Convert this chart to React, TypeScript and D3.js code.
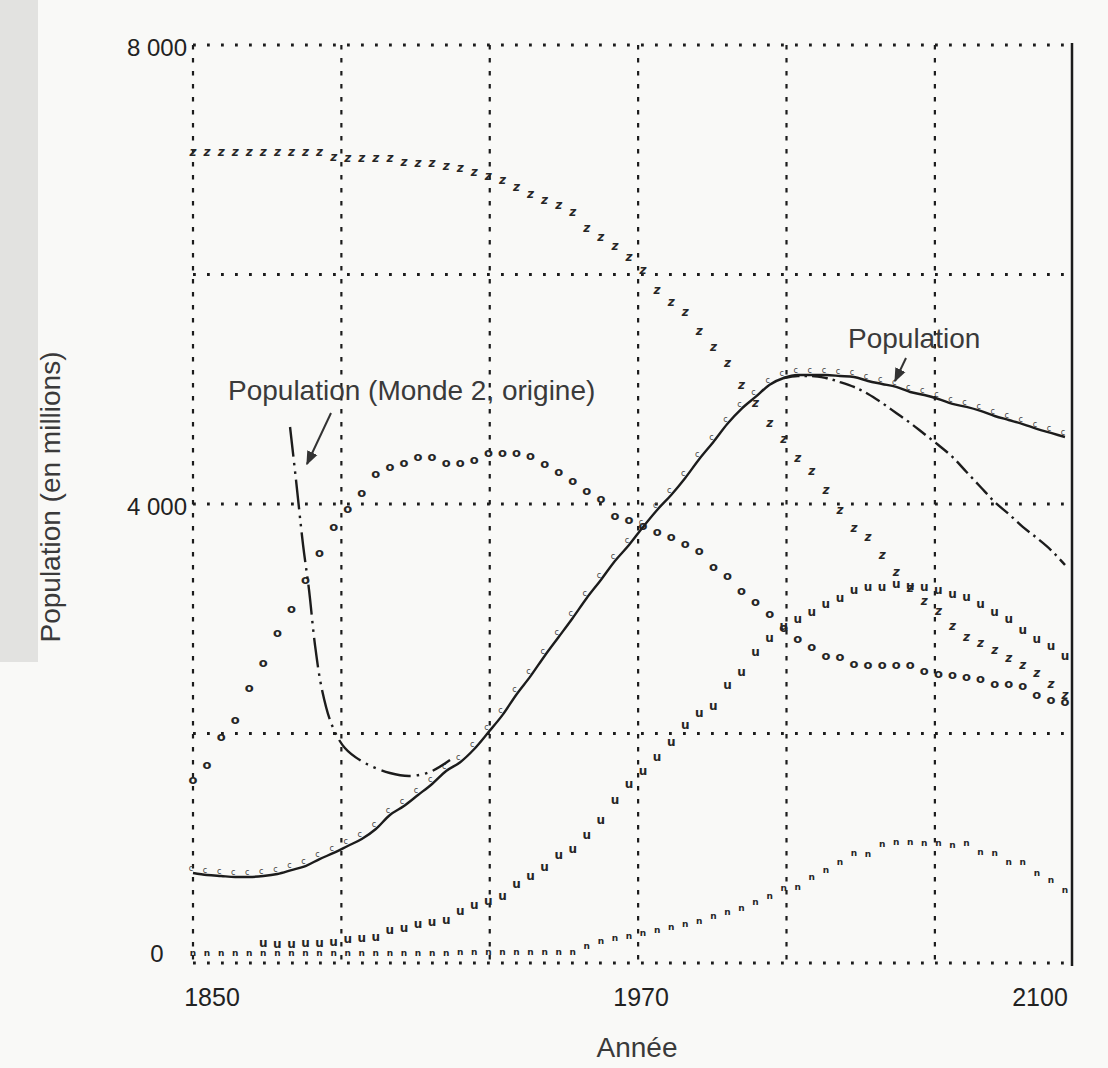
import React from "react";
import * as d3 from "d3";

// sampled every 4 years, 1850 -> 2098
const years = d3.range(1850, 2100, 4);

// population, standard run (solid line)
const populationValues = [
  784, 767, 758, 750, 750, 758, 776, 810, 845, 906, 959, 1020, 1081, 1168, 1290, 1368,
  1464, 1560, 1673, 1750, 1865, 2010, 2160, 2340, 2500, 2676, 2841, 3007, 3181, 3338,
  3503, 3643, 3800, 3948, 4079, 4227, 4392, 4541, 4700, 4830, 4933, 5040, 5098, 5124,
  5124, 5124, 5116, 5107, 5072, 5046, 5020, 4976, 4950, 4915, 4872, 4846, 4811, 4767,
  4732, 4697, 4654, 4619, 4584,
];

// second population run, splits off after 2018 (dash-dot)
const popAltYears = d3.range(2018, 2100, 4);
const popAltValues = [
  5098, 5116, 5116, 5098, 5063, 5020, 4959, 4880, 4793, 4706, 4610, 4514, 4410, 4279,
  4148, 4018, 3913, 3800, 3704, 3599, 3469,
];

// "Population (Monde 2, origine)"
const worldTwoYears = [1877.6, 1879.3, 1881.3, 1883, 1884.7, 1886.7, 1889.5, 1893.2, 1898.9, 1906, 1911.7, 1917.4, 1923.1];
const worldTwoValues = [4671, 4209, 3643, 3251, 2771, 2379, 2074, 1874, 1743, 1656, 1630, 1665, 1769];

// "z" markers
const zValues = [
  7070, 7070, 7070, 7070, 7070, 7070, 7070, 7070, 7070, 7070, 7020, 7015, 7015, 7015,
  7015, 6980, 6970, 6970, 6945, 6930, 6895, 6860, 6825, 6765, 6700, 6650, 6605, 6545,
  6405, 6325, 6250, 6155, 6040, 5865, 5760, 5675, 5510, 5370, 5230, 5040, 4880, 4705,
  4565, 4400, 4290, 4120, 3950, 3790, 3715, 3555, 3410, 3270, 3155, 3070, 2935, 2840,
  2790, 2730, 2660, 2595, 2525, 2430, 2335,
];

// "o" markers
const oValues = [
  1595, 1726, 1978, 2118, 2405, 2623, 2876, 3085, 3338, 3573, 3800, 3957, 4096, 4262,
  4331, 4358, 4410, 4410, 4366, 4358, 4392, 4445, 4445, 4453, 4427, 4349, 4279, 4209,
  4122, 4052, 3904, 3861, 3809, 3756, 3713, 3652, 3591, 3451, 3381, 3242, 3146, 3042,
  2928, 2824, 2754, 2684, 2675, 2606, 2597, 2597, 2597, 2597, 2553, 2519, 2510, 2501,
  2475, 2440, 2432, 2414, 2344, 2292, 2275,
];

// "u" markers, from 1870
const uYears = d3.range(1870, 2100, 4);
const uValues = [
  174, 166, 166, 174, 174, 183, 209, 218, 227, 288, 305, 340, 357, 375, 453, 505, 540,
  584, 688, 758, 837, 941, 994, 1116, 1246, 1421, 1560, 1673, 1795, 1926, 2074, 2179,
  2240, 2423, 2536, 2710, 2832, 2937, 2998, 3059, 3129, 3181, 3251, 3277, 3277, 3303,
  3286, 3277, 3251, 3216, 3190, 3129, 3059, 2998, 2902, 2824, 2763, 2675,
];

// "n" markers
const nValues = [
  87, 87, 87, 87, 87, 87, 87, 87, 87, 87, 87, 87, 87, 87, 87, 87, 87, 87, 87,
  100, 100, 100, 100, 100, 100, 100, 100, 100, 150,
  192, 218, 235, 261, 288, 314, 340, 366, 410, 444, 479, 532, 584, 654, 662, 750, 810,
  880, 959, 950, 1037, 1055, 1055, 1046, 1046, 1028, 1046, 967, 959, 880, 880, 784, 723, 636,
];

const yTickValues = [0, 4000, 8000];
const xTickLabels = ["1850", "1970", "2100"];

const W = 1108;
const H = 1068;
const ink = "#1c1c1c";
const font = "'Liberation Sans', Arial, Helvetica, sans-serif";

export default function App() {
  const x = d3.scaleLinear().domain([1850, 2100]).range([193, 1072]);
  const y = d3.scaleLinear().domain([0, 8000]).range([963, 45]);
  const [x0, x1] = x.range();
  const [y0, y1] = y.range();

  const frFormat = d3
    .formatLocale({ decimal: ",", thousands: " ", grouping: [3], currency: ["", ""] })
    .format(",");

  const gridX = d3.range(6).map((i) => x(1850 + i * 42.2));
  const gridY = y.ticks(4);

  const line = d3
    .line<[number, number]>()
    .x((d) => x(d[0]))
    .y((d) => y(d[1]))
    .curve(d3.curveMonotoneX);
  const lineCR = d3
    .line<[number, number]>()
    .x((d) => x(d[0]))
    .y((d) => y(d[1]))
    .curve(d3.curveCatmullRom);

  const pop = years.map((yr, i) => [yr, populationValues[i]] as [number, number]);
  const popAlt = popAltYears.map((yr, i) => [yr, popAltValues[i]] as [number, number]);
  const worldTwo = worldTwoYears.map((yr, i) => [yr, worldTwoValues[i]] as [number, number]);

  const glyphs = (
    key: string,
    xs: number[],
    vs: number[],
    ch: string,
    size: number,
    extra: React.SVGProps<SVGTextElement> = {}
  ) =>
    xs.map((yr, i) => (
      <text
        key={key + i}
        x={x(yr)}
        y={y(vs[i])}
        textAnchor="middle"
        dominantBaseline="central"
        fontSize={size}
        fontWeight="bold"
        fontFamily="'DejaVu Sans', sans-serif"
        fill="#262626"
        {...extra}
      >
        {ch}
      </text>
    ));

  const xLabelPos = [gridX[0] + 19, gridX[3] + 3, x1 - 32];

  return (
    <div style={{ position: "absolute", left: 0, top: 0 }}>
      <svg width={W} height={H} style={{ display: "block", background: "#f9f9f7" }}>
        <defs>
          <marker id="arrow" viewBox="0 0 10 10" refX="9" refY="5" markerWidth="7" markerHeight="9" orient="auto">
            <path d="M0,1 L10,5 L0,9 z" fill="#333" />
          </marker>
        </defs>
        <rect x={0} y={0} width={38} height={662} fill="#e2e2e0" />

        {/* grid */}
        {gridY.map((v) => (
          <line
            key={"h" + v}
            x1={x0}
            x2={x1}
            y1={y(v)}
            y2={y(v)}
            stroke={ink}
            strokeWidth={2.8}
            strokeDasharray="2.8 11.2"
          />
        ))}
        {gridX.map((gx, i) => (
          <line
            key={"v" + i}
            x1={gx}
            x2={gx}
            y1={y1}
            y2={y0 + 2}
            stroke={ink}
            strokeWidth={2.2}
            strokeDasharray="4.5 8.5"
          />
        ))}
        <line x1={x1} x2={x1} y1={y1 - 2} y2={y0 + 3} stroke={ink} strokeWidth={2.5} />

        {/* marker series */}
        {glyphs("n", years, nValues, "n", 9)}
        {glyphs("u", uYears, uValues, "u", 12)}
        {glyphs("o", years, oValues, "o", 13)}
        {glyphs("z", years, zValues, "z", 12, { fontStyle: "italic" })}

        {/* population lines */}
        <path d={line(pop) || ""} fill="none" stroke={ink} strokeWidth={2.4} />
        {pop.map((d, i) => (
          <text
            key={"pm" + i}
            x={x(d[0]) - 2}
            y={y(d[1]) - 2}
            textAnchor="middle"
            fontSize={8}
            fontFamily="'DejaVu Sans', sans-serif"
            fill="#444"
          >
            c
          </text>
        ))}
        <path
          d={line(popAlt) || ""}
          fill="none"
          stroke={ink}
          strokeWidth={2.4}
          strokeDasharray="16 5 2.5 5"
        />
        <path
          d={lineCR(worldTwo) || ""}
          fill="none"
          stroke={ink}
          strokeWidth={2.4}
          strokeDasharray="30 6 2.5 6 2.5 6"
        />

        {/* annotations */}
        <text x={228} y={400} fontSize={28} fontFamily={font} fill="#3a3a3a">
          Population (Monde 2, origine)
        </text>
        <line x1={331} y1={413} x2={307} y2={464} stroke="#333" strokeWidth={2} markerEnd="url(#arrow)" />
        <text x={848} y={348} fontSize={28} fontFamily={font} fill="#3a3a3a">
          Population
        </text>
        <line x1={906} y1={358} x2={895} y2={381} stroke="#333" strokeWidth={2} markerEnd="url(#arrow)" />

        {/* axes text */}
        {yTickValues.map((v) => (
          <text
            key={"yt" + v}
            x={157}
            y={y(v) + (v === 0 ? -7 : 5)}
            textAnchor="middle"
            dominantBaseline="middle"
            fontSize={24}
            fontFamily={font}
            fill="#222"
          >
            {frFormat(v)}
          </text>
        ))}
        {xTickLabels.map((t, i) => (
          <text
            key={"xt" + t}
            x={xLabelPos[i]}
            y={1006}
            textAnchor="middle"
            fontSize={25}
            fontFamily={font}
            fill="#222"
          >
            {t}
          </text>
        ))}
        <text x={637} y={1057} textAnchor="middle" fontSize={28} fontFamily={font} fill="#3a3a3a">
          Année
        </text>
        <text
          transform={`translate(60, 497) rotate(-90)`}
          textAnchor="middle"
          fontSize={28}
          fontFamily={font}
          fill="#3a3a3a"
        >
          Population (en millions)
        </text>
      </svg>
    </div>
  );
}
